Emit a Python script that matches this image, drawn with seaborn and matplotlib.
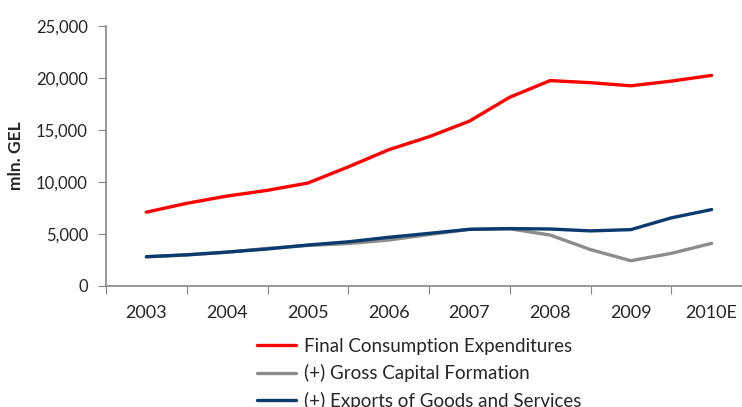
import numpy as np
import pandas as pd
import matplotlib
matplotlib.use("Agg")
import matplotlib.pyplot as plt
import matplotlib.ticker as mticker
import seaborn as sns

# Year labels on the x axis, readings taken every half year
years = ["2003", "2004", "2005", "2006", "2007", "2008", "2009", "2010E"]
steps = [0, 0.5, 1, 1.5, 2, 2.5, 3, 3.5, 4, 4.5, 5, 5.5, 6, 6.5, 7]

consumption = [7100, 7950, 8650, 9200, 9900, 11450, 13100, 14350, 15850, 18150,
               19750, 19550, 19250, 19700, 20250]
capital = [2800, 2980, 3250, 3620, 3900, 4080, 4420, 4950, 5450, 5500,
           4900, 3500, 2430, 3140, 4100]
exports = [2820, 3000, 3260, 3560, 3940, 4250, 4680, 5060, 5450, 5520,
           5480, 5300, 5420, 6550, 7350]

labels = ["Final Consumption Expenditures",
          "(+) Gross Capital Formation",
          "(+) Exports of Goods and Services"]
colors = ["#FF0000", "#8C8C8C", "#0B3B6E"]

df = pd.DataFrame({
    "x": steps * 3,
    "value": consumption + capital + exports,
    "series": [labels[0]] * len(steps) + [labels[1]] * len(steps) + [labels[2]] * len(steps),
})

sns.set_style("white")
plt.rcParams["font.family"] = ["Lato", "DejaVu Sans"]

fig = plt.figure(figsize=(7.42, 4.07), dpi=100)
ax = fig.add_axes([106 / 742, 1 - 286 / 407, 646 / 742, 260 / 407])

sns.lineplot(data=df, x="x", y="value", hue="series", hue_order=labels,
             palette=colors, linewidth=2.4, ax=ax, legend=False)

ax.set_xlim(-0.5, 7.5)
ax.set_ylim(0, 25000)
ax.yaxis.set_major_locator(mticker.MultipleLocator(5000))
ax.yaxis.set_major_formatter(mticker.FuncFormatter(lambda v, p: f"{v:,.0f}"))

# boundaries get the tick marks, centres get the year labels
ax.set_xticks(np.arange(-0.5, 8, 1))
ax.set_xticklabels([])
ax.set_xticks(np.arange(0, 8), minor=True)
ax.set_xticklabels(years, minor=True)
ax.tick_params(axis="x", which="major", length=6, color="#868686", direction="out", bottom=True)
ax.tick_params(axis="x", which="minor", length=0, pad=14, labelsize=13)
ax.tick_params(axis="y", length=6, color="#868686", direction="out", left=True, labelsize=12, pad=7)

ax.set_xlabel("")
ax.set_ylabel("mln. GEL", fontsize=12.5, fontweight="bold", labelpad=9)

sns.despine(ax=ax)
for side in ["left", "bottom"]:
    ax.spines[side].set_color("#868686")
    ax.spines[side].set_linewidth(1.2)

handles = [plt.Line2D([], [], color=c, linewidth=2.4) for c in colors]
fig.legend(handles, labels, loc="upper left", bbox_to_anchor=(257 / 742, 1 - 338 / 407),
           frameon=False, fontsize=13.5, handlelength=2.1, handletextpad=0.4,
           labelspacing=0.5, borderaxespad=0, borderpad=0)

fig.savefig("out.png", dpi=100)
